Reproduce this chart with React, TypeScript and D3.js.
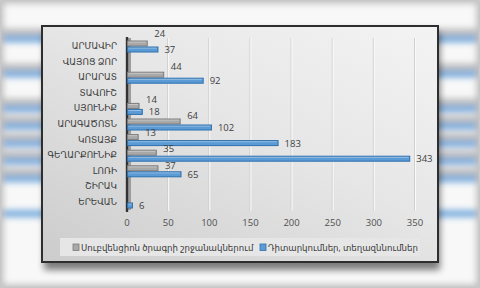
import React from "react";
import * as d3 from "d3";

const categories = ["ԱՐՄԱՎԻՐ", "ՎԱՅՈՑ ՁՈՐ", "ԱՐԱՐԱՏ", "ՏԱՎՈՒՇ", "ՍՅՈՒՆԻՔ", "ԱՐԱԳԱԾՈՏՆ", "ԿՈՏԱՅՔ", "ԳԵՂԱՐՔՈՒՆԻՔ", "ԼՈՌԻ", "ՇԻՐԱԿ", "ԵՐԵՎԱՆ"];
const subventionValues = [24, 0, 44, 0, 14, 64, 13, 35, 37, 0, 0];
const inspectionValues = [37, 0, 92, 0, 18, 102, 183, 343, 65, 0, 6];
const seriesNames = ["Սուբվենցիոն  ծրագրի շրջանակներում", "Դիտարկումներ,  տեղազննումներ"];
const xTicks = [0, 50, 100, 150, 200, 250, 300, 350];

const W = 480, H = 288;
const FONT = "'Open Sans', 'DejaVu Sans', sans-serif";
const GRAY = "#a8a8a8", GRAY_S = "#7c7c7c";
const BLUE = "#5b9bd5", BLUE_S = "#2e6fae";

export default function App() {
  const x = d3.scaleLinear().domain([0, 350]).range([127, 415]);
  const y = d3.scaleBand().domain(categories).range([38.2, 209.8]);
  const sub = d3.scaleBand().domain(["g", "b"]).range([-5.5, 6.5]);
  const cy = (c: string) => (y(c) as number) + y.bandwidth() / 2;
  const bh = sub.bandwidth();
  // background (blurred enlarged copy) vertical mapping
  const bgY = (v: number) => 140 + 1.12 * (v - 140);

  const series = [
    { key: "g", values: subventionValues, fill: GRAY, stroke: GRAY_S },
    { key: "b", values: inspectionValues, fill: BLUE, stroke: BLUE_S },
  ];

  return (
    <svg width={W} height={H} style={{ position: "absolute", left: 0, top: 0 }} xmlns="http://www.w3.org/2000/svg">
      <defs>
        <filter id="blur" x="-10%" y="-10%" width="120%" height="120%">
          <feGaussianBlur stdDeviation="3" />
        </filter>
        <filter id="shadow" x="-10%" y="-10%" width="120%" height="130%">
          <feGaussianBlur stdDeviation="3.5" />
        </filter>
        <linearGradient id="panel" x1="0.95" y1="0" x2="0.05" y2="1">
          <stop offset="0" stopColor="#f3f3f3" />
          <stop offset="0.45" stopColor="#e6e6e6" />
          <stop offset="1" stopColor="#cdcdcd" />
        </linearGradient>
      </defs>

      {/* blurred background */}
      <rect x={0} y={0} width={W} height={H} fill="#f8f8f8" />
      <g filter="url(#blur)" opacity={0.8}>
        {categories.map((c, i) =>
          series.map((s) =>
            s.values[i] > 0 ? (
              <rect key={c + s.key} x={-20} width={W + 40}
                y={bgY(cy(c) + (sub(s.key) as number))} height={bh * 1.2}
                fill={s.key === "b" ? "#5a9ad6" : "#b0b0b0"} />
            ) : null
          )
        )}
        <rect x={0} y={0} width={W} height={H} fill="none" stroke="#b0b0b0" strokeWidth={7} />
      </g>
      <rect x={0.75} y={0.75} width={W - 1.5} height={H - 1.5} fill="none" stroke="#c8c8c8" strokeWidth={1.5} />

      {/* frame shadow */}
      <rect x={44} y={32} width={396} height={238} fill="#000" opacity={0.5} filter="url(#shadow)" />
      {/* chart frame */}
      <rect x={42} y={26} width={396} height={236} fill="url(#panel)" stroke="#2e2e2e" strokeWidth={2} />

      {/* gridlines */}
      {xTicks.slice(1).map((t) => (
        <g key={t}>
          <line x1={x(t) - 0.5} x2={x(t) - 0.5} y1={38} y2={211} stroke="#cfcfcf" strokeWidth={1} />
          <line x1={x(t) + 0.5} x2={x(t) + 0.5} y1={38} y2={211} stroke="#fafafa" strokeWidth={1} />
        </g>
      ))}
      {/* 3D floor/wall */}
      <rect x={x(0) + 1} y={38} width={3} height={172} fill="#9c9c9c" />
      <line x1={x(0)} x2={x(0)} y1={37} y2={212} stroke="#333333" strokeWidth={2.4} />

      {/* bars */}
      {series.map((s) =>
        categories.map((c, i) =>
          s.values[i] > 0 ? (
            <g key={s.key + c}>
              <rect x={x(0) + 0.5} y={cy(c) + (sub(s.key) as number) + 0.5}
                width={x(s.values[i]) - x(0)} height={bh - 1}
                fill={s.fill} stroke={s.stroke} strokeWidth={1} />
              <line x1={x(0) + 1.5} x2={x(s.values[i]) - 0.5}
                y1={cy(c) + (sub(s.key) as number) + 1.6} y2={cy(c) + (sub(s.key) as number) + 1.6}
                stroke="#ffffff" strokeOpacity={0.35} strokeWidth={1} />
            </g>
          ) : null
        )
      )}

      {/* value labels */}
      {categories.map((c, i) =>
        subventionValues[i] > 0 ? (
          <text key={"gl" + c} x={x(subventionValues[i]) + 7.5}
            y={cy(c) + (sub("g") as number) + bh / 2 - 10 + 7 * (i / 8)}
            dominantBaseline="central" fontSize={9.5} fill="#404040" fontFamily={FONT}>
            {subventionValues[i]}
          </text>
        ) : null
      )}
      {categories.map((c, i) =>
        inspectionValues[i] > 0 ? (
          <text key={"bl" + c} x={x(inspectionValues[i]) + 7}
            y={cy(c) + (sub("b") as number) + bh / 2}
            dominantBaseline="central" fontSize={9.5} fill="#404040" fontFamily={FONT}>
            {inspectionValues[i]}
          </text>
        ) : null
      )}

      {/* category labels */}
      {categories.map((c) => (
        <text key={c} x={117} y={cy(c)} textAnchor="end" dominantBaseline="central"
          fontSize={8.8} fill="#3a3a3a" fontFamily={FONT}>{c}</text>
      ))}

      {/* x tick labels */}
      {xTicks.map((t) => (
        <text key={t} x={x(t)} y={222} textAnchor="middle" dominantBaseline="central"
          fontSize={9.5} fill="#505050" fontFamily={FONT}>{t}</text>
      ))}

      {/* legend */}
      <rect x={60} y={238} width={360} height={18} fill="#e6e6e6" />
      <rect x={73} y={244} width={6} height={6.5} fill={GRAY} stroke={GRAY_S} strokeWidth={0.8} />
      <text x={81} y={247.5} dominantBaseline="central" fontSize={8.6} fill="#3a3a3a" fontFamily={FONT}>{seriesNames[0]}</text>
      <rect x={260} y={244} width={6} height={6.5} fill={BLUE} stroke={BLUE_S} strokeWidth={0.8} />
      <text x={268} y={247.5} dominantBaseline="central" fontSize={8.6} fill="#3a3a3a" fontFamily={FONT}>{seriesNames[1]}</text>
    </svg>
  );
}
